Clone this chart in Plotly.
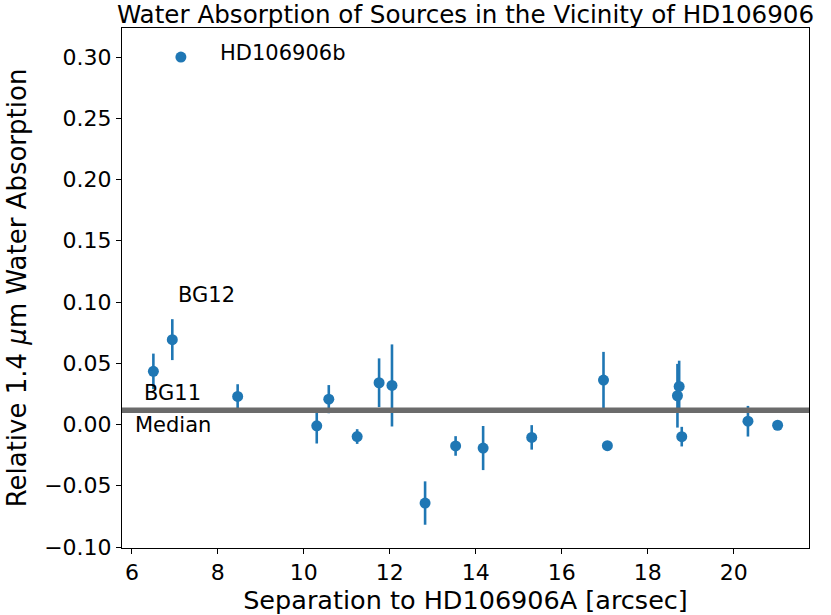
import plotly.graph_objects as go

# sources in the field (separation in arcsec, relative water absorption)
sep = [6.50, 6.94, 8.46, 10.30, 10.58, 11.24, 11.75, 12.05, 12.82, 13.53,
       14.17, 15.30, 16.97, 17.06, 18.69, 18.73, 18.79, 20.33, 21.02]
water = [0.0434, 0.0693, 0.0229, -0.0011, 0.0207, -0.0098, 0.0341, 0.0319, -0.0641, -0.0175,
         -0.0192, -0.0105, 0.0363, -0.0173, 0.0235, 0.0311, -0.0099, 0.0027, -0.0006]
water_err = [0.0145, 0.0167, 0.010, 0.0144, 0.0115, 0.006, 0.0199, 0.0335, 0.0177, 0.008,
             0.018, 0.010, 0.023, 0.0, 0.026, 0.021, 0.008, 0.0125, 0.0]

planet_sep = [7.14]
planet_water = [0.300]
median_water = 0.0117

labels = ["HD106906b", "BG12", "BG11", "Median"]
label_x = [8.01, 7.03, 6.23, 6.02]
label_y = [0.303, 0.1055, 0.026, -0.0005]

BLUE = "#1f77b4"
FONT = "DejaVu Sans"

fig = go.Figure()
fig.add_trace(go.Scatter(
    x=sep, y=water, mode="markers",
    marker=dict(color=BLUE, size=11),
    error_y=dict(type="data", array=water_err, color=BLUE, thickness=2.6, width=0),
    showlegend=False))
fig.add_trace(go.Scatter(
    x=planet_sep, y=planet_water, mode="markers",
    marker=dict(color=BLUE, size=11), showlegend=False))

# median line over the points, like axhline
fig.add_shape(type="line", xref="paper", x0=0, x1=1, yref="y",
              y0=median_water, y1=median_water,
              line=dict(color="#6b6b6b", width=5.5), layer="above")

for txt, tx, ty in zip(labels, label_x, label_y):
    fig.add_annotation(x=tx, y=ty, text=txt, showarrow=False,
                       xanchor="left", yanchor="middle",
                       font=dict(family=FONT, size=21, color="black"))

axis_style = dict(showline=True, linecolor="black", linewidth=1, mirror=True,
                  ticks="outside", ticklen=5, tickcolor="black",
                  showgrid=False, zeroline=False, automargin=False,
                  tickfont=dict(family=FONT, size=22, color="black"))

fig.update_layout(
    template="none",
    width=831, height=615,
    margin=dict(l=122, r=22, t=28, b=67, autoexpand=False),
    plot_bgcolor="white", paper_bgcolor="white",
    title=dict(text="Water Absorption of Sources in the Vicinity of HD106906",
               x=465.5 / 831, xref="container", xanchor="center",
               y=1 - 14 / 615, yref="container", yanchor="middle",
               font=dict(family=FONT, size=24.6, color="black")),
    xaxis=dict(range=[5.77, 21.75], tickmode="array", tickvals=[6, 8, 10, 12, 14, 16, 18, 20],
               title=dict(text="Separation to HD106906A [arcsec]", standoff=4,
                          font=dict(family=FONT, size=25.5, color="black")),
               **axis_style),
    yaxis=dict(range=[-0.1008, 0.3237], tickmode="array",
               tickvals=[-0.10, -0.05, 0.0, 0.05, 0.10, 0.15, 0.20, 0.25, 0.30],
               tickformat=".2f",
               title=dict(text="Relative 1.4 <i>\u03bc</i>m Water Absorption", standoff=10,
                          font=dict(family=FONT, size=26, color="black")),
               **axis_style),
)

# drop the default 8px page margin so the figure sits at the window corner
fig.write_html("out.html", config={"displayModeBar": False},
               post_script="document.body.style.margin = '0px';")
